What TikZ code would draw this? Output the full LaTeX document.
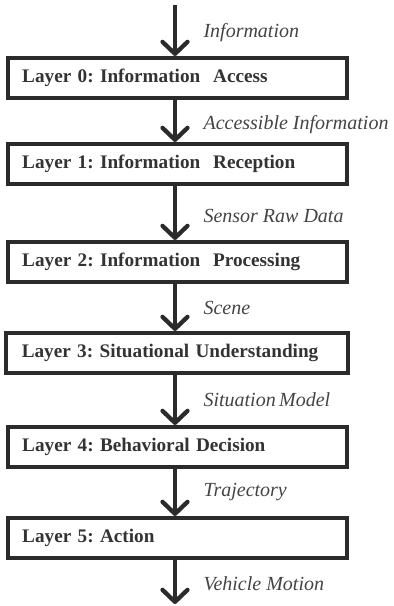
\documentclass[tikz,border=0pt]{standalone}
\usepackage{fontspec}
\setmainfont{Liberation Serif}
\usetikzlibrary{arrows.meta}
\definecolor{ink}{HTML}{2B2B2B}
\definecolor{txt}{HTML}{333333}
\definecolor{lbl}{HTML}{444444}
\frenchspacing
\begin{document}
\begin{tikzpicture}[x=1pt,y=-1pt,
  layerbox/.style={draw=ink,line width=3.5pt,fill=white,anchor=north west,
    minimum height=40pt,text=txt,font=\fontsize{19.2}{21}\selectfont\bfseries,
    align=left,inner xsep=14pt,text width=310pt},
  flow/.style={draw=ink,line width=4.3pt,
    -{Straight Barb[length=12pt,width=25pt,line width=4.3pt,round]}},
  lab/.style={anchor=west,text=lbl,font=\fontsize{20}{22}\selectfont\itshape}]
\useasboundingbox (0,0) rectangle (394,606);
\node[layerbox,minimum width=339pt] (L0) at (6,56) {Layer 0: Information\ \ Access};
\node[layerbox,minimum width=339pt] (L1) at (6,142) {Layer 1: Information\ \ Reception};
\node[layerbox,minimum width=339pt] (L2) at (6,240) {Layer 2: Information\ \ Processing};
\node[layerbox,minimum width=337pt,inner xsep=16pt] (L3) at (4,331) {Layer 3: Situational Understanding};
\node[layerbox,minimum width=339pt] (L4) at (6,425) {Layer 4: Behavioral Decision};
\node[layerbox,minimum width=339pt] (L5) at (6,516) {Layer 5: Action};
\coordinate (top) at (175,5);
\coordinate (bot) at (175,604);
\draw[flow] (top) -- (top |- L0.north);
\draw[flow] (L0.south -| top) -- (top |- L1.north);
\draw[flow] (L1.south -| top) -- (top |- L2.north);
\draw[flow] (L2.south -| top) -- (top |- L3.north);
\draw[flow] (L3.south -| top) -- (top |- L4.north);
\draw[flow] (L4.south -| top) -- (top |- L5.north);
\draw[flow] (L5.south -| top) -- (bot);
\node[lab] (t0) at (200,33) {Information};
\node[lab] (t1) at (200,125) {Accessible Information};
\node[lab] (t2) at (200,216) {Sensor Raw Data};
\node[lab] (t3) at (200,308) {Scene};
\node[lab] (t4) at (200,400) {Situation\,Model};
\node[lab] (t5) at (200,492) {Trajectory};
\node[lab] (t6) at (200,584) {Vehicle Motion};
\end{tikzpicture}
\end{document}
